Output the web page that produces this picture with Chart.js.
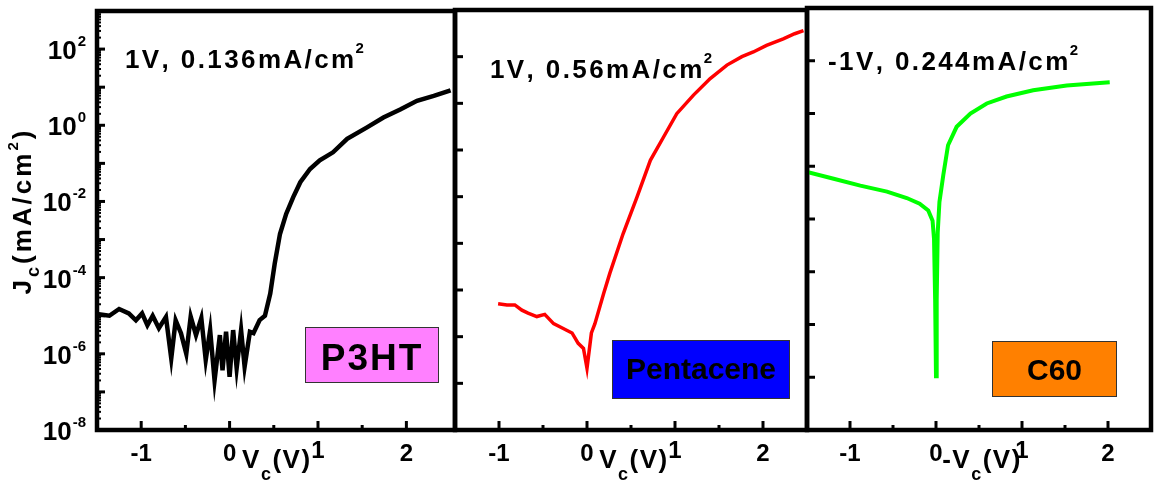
<!DOCTYPE html>
<html>
<head>
<meta charset="utf-8">
<script src="https://cdn.jsdelivr.net/npm/chart.js@4.4.1/dist/chart.umd.min.js"></script>
<style>
  html, body { margin: 0; padding: 0; background: #fff; }
  #wrap { position: relative; width: 1154px; height: 489px; }
  #wrap canvas { position: absolute; left: 0; top: 0; }
</style>
</head>
<body>
<div id="wrap">
  <canvas id="c1" width="1154" height="489"></canvas>
  <canvas id="c2" width="1154" height="489"></canvas>
  <canvas id="c3" width="1154" height="489"></canvas>
</div>
<script>
// P3HT (black), Jc in mA/cm2 vs Vc in V
var p3htV = [-1.48,-1.36,-1.25,-1.14,-1.06,-0.99,-0.93,-0.87,-0.80,-0.72,-0.66,-0.61,-0.55,-0.49,-0.44,-0.38,-0.32,-0.27,-0.22,-0.17,-0.11,-0.08,-0.04,0.00,0.04,0.08,0.13,0.17,0.23,0.27,0.34,0.40,0.46,0.51,0.57,0.64,0.72,0.80,0.91,1.02,1.17,1.33,1.55,1.74,1.93,2.12,2.31,2.50];
var p3htJ = [1.1e-5,1.0e-5,1.5e-5,1.15e-5,7.6e-6,1.15e-5,5.6e-6,1.0e-5,4.7e-6,9.3e-6,7.6e-7,7.6e-6,3.5e-6,1.0e-6,9.5e-6,3.1e-6,8.7e-6,6.9e-7,4.2e-6,2.0e-7,3.1e-6,3.7e-7,3.8e-6,2.5e-7,4.2e-6,4.2e-7,4.2e-6,4.6e-7,3.8e-6,3.5e-6,7.7e-6,1.0e-5,3.8e-5,2.3e-4,1.4e-3,4.7e-3,1.3e-2,3.2e-2,7.1e-2,0.12,0.195,0.44,0.87,1.6,2.6,4.4,5.9,8.3];

// Pentacene (red)
var pentV = [-1.01,-0.91,-0.82,-0.74,-0.67,-0.57,-0.48,-0.38,-0.27,-0.17,-0.10,-0.04,0.00,0.05,0.09,0.19,0.26,0.41,0.57,0.72,0.87,1.02,1.21,1.40,1.59,1.76,1.89,2.04,2.23,2.36,2.46];
var pentJ = [5.1e-6,4.8e-6,4.8e-6,3.7e-6,3.2e-6,2.7e-6,3.0e-6,1.9e-6,1.5e-6,1.2e-6,7.2e-7,5.6e-7,2.1e-7,1.2e-6,1.9e-6,8.5e-6,2.3e-5,1.6e-4,1e-3,6e-3,1.9e-2,6e-2,0.15,0.34,0.66,1.0,1.26,1.74,2.4,3.1,3.6];

// C60 (green)
var c60V = [-1.50,-1.19,-0.88,-0.57,-0.34,-0.19,-0.09,-0.04,-0.023,-0.01,0.00,0.008,0.02,0.04,0.085,0.14,0.24,0.40,0.59,0.82,1.13,1.52,2.02];
var c60J = [7.8e-4,5.8e-4,4.3e-4,3.3e-4,2.5e-4,1.95e-4,1.45e-4,9.3e-5,4.2e-5,3e-6,1.05e-7,3e-6,5.6e-5,2.1e-4,6.8e-4,2.5e-3,5.6e-3,1e-2,1.55e-2,2.1e-2,2.75e-2,3.4e-2,3.9e-2];

var xTickLabels = ['-1', '0', '1', '2'];
var xMajor = [-1, 0, 1, 2];
var xMinor = [-0.5, 0.5, 1.5];
var yLabelExp = ['2', '0', '-2', '-4', '-6', '-8'];

var FONT = '"Liberation Sans", Arial, Helvetica, sans-serif';

function pts(xs, ys) {
  var out = [];
  for (var i = 0; i < xs.length; i++) out.push({x: xs[i], y: ys[i]});
  return out;
}

// pieces [{t, size, bold, dy}] drawn one char at a time with extra spacing
function richWidth(ctx, parts, spacing) {
  var w = 0;
  for (var i = 0; i < parts.length; i++) {
    var p = parts[i];
    ctx.font = (p.bold === false ? '' : 'bold ') + p.size + 'px ' + FONT;
    w += ctx.measureText(p.t).width + spacing * p.t.length;
  }
  return w;
}
function drawRich(ctx, parts, x, y, spacing, align) {
  var w = richWidth(ctx, parts, spacing);
  if (align === 'center') x -= w / 2;
  if (align === 'right') x -= w;
  ctx.textAlign = 'left';
  ctx.textBaseline = 'alphabetic';
  for (var i = 0; i < parts.length; i++) {
    var p = parts[i];
    ctx.font = (p.bold === false ? '' : 'bold ') + p.size + 'px ' + FONT;
    for (var k = 0; k < p.t.length; k++) {
      var ch = p.t[k];
      ctx.fillText(ch, x, y + (p.dy || 0));
      x += ctx.measureText(ch).width + spacing;
    }
  }
  return x;
}

function panelPlugin(opt) {
  return {
    id: 'panel' + opt.name,
    afterDatasetsDraw: function(chart) {
      var ctx = chart.ctx;
      var a = chart.chartArea;
      var xs = chart.scales.x, ys = chart.scales.y;
      ctx.save();
      ctx.fillStyle = '#000';
      ctx.strokeStyle = '#000';

      // x ticks, inward
      ctx.lineWidth = 3;
      xMajor.forEach(function(v) {
        var px = xs.getPixelForValue(v);
        ctx.beginPath(); ctx.moveTo(px, a.bottom); ctx.lineTo(px, a.bottom - 9); ctx.stroke();
      });
      xMinor.forEach(function(v) {
        var px = xs.getPixelForValue(v);
        ctx.beginPath(); ctx.moveTo(px, a.bottom); ctx.lineTo(px, a.bottom - 5); ctx.stroke();
      });

      // y ticks, inward
      var lo = Math.round(Math.log10(ys.min)), hi = Math.round(Math.log10(ys.max));
      for (var d = lo; d <= hi; d++) {
        var py = ys.getPixelForValue(Math.pow(10, d));
        ctx.lineWidth = 3;
        ctx.beginPath(); ctx.moveTo(a.left, py); ctx.lineTo(a.left + 8, py); ctx.stroke();
        if (opt.minor && d < hi) {
          ctx.lineWidth = 2;
          for (var m = 2; m <= 9; m++) {
            var pm = ys.getPixelForValue(m * Math.pow(10, d));
            ctx.beginPath(); ctx.moveTo(a.left, pm); ctx.lineTo(a.left + 4, pm); ctx.stroke();
          }
        }
      }

      // frame
      ctx.lineWidth = 4.5;
      ctx.strokeRect(a.left, a.top, a.right - a.left, a.bottom - a.top);

      // x tick labels and title
      xMajor.forEach(function(v, i) {
        var lift = (v === 1) ? 3 : 0;
        drawRich(ctx, [{t: xTickLabels[i], size: 24}], xs.getPixelForValue(v), a.bottom + 31 - lift, 0, 'center');
      });
      var tparts = [{t: opt.xPrefix + 'V', size: 26}, {t: 'c', size: 18, dy: 12}, {t: '(V)', size: 26}];
      drawRich(ctx, tparts, xs.getPixelForValue(0.5) + 3, a.bottom + 38, 1.5, 'center');

      // y labels (first panel only)
      if (opt.yLabels) {
        yLabelExp.forEach(function(e) {
          var py = ys.getPixelForValue(Math.pow(10, Number(e)));
          ctx.font = 'bold 15px ' + FONT;
          var ew = ctx.measureText(e).width;
          var rx = a.left - 11;
          drawRich(ctx, [{t: '10', size: 26}], rx - ew - 1, py + 10, 0, 'right');
          drawRich(ctx, [{t: e, size: 15}], rx - ew, py - 3, 0, 'left');
        });
        ctx.save();
        ctx.translate(a.left - 66, 211);
        ctx.rotate(-Math.PI / 2);
        drawRich(ctx, [{t: 'J', size: 26}, {t: 'c', size: 18, dy: 8}, {t: '(mA/cm', size: 26},
                       {t: '2', size: 15, dy: -13}, {t: ')', size: 26}], 0, 0, 3, 'center');
        ctx.restore();
      }

      // condition note
      var nx = drawRich(ctx, [{t: opt.note, size: 26}], a.left + opt.noteDx, a.top + opt.noteDy, 2.4, 'left');
      drawRich(ctx, [{t: '2', size: 15}], nx - 1, a.top + opt.noteDy - 15, 0, 'left');

      // material box
      var b = opt.box;
      ctx.fillStyle = b.fill;
      ctx.fillRect(b.x1, b.y1, b.x2 - b.x1, b.y2 - b.y1);
      ctx.lineWidth = 1;
      ctx.strokeStyle = '#333';
      ctx.strokeRect(b.x1 + 0.5, b.y1 + 0.5, b.x2 - b.x1 - 1, b.y2 - b.y1 - 1);
      ctx.fillStyle = '#000';
      drawRich(ctx, [{t: b.text, size: b.size}], (b.x1 + b.x2) / 2, b.baseline, b.spacing, 'center');

      ctx.restore();
    }
  };
}

function makePanel(id, opt) {
  return new Chart(document.getElementById(id), {
    type: 'line',
    data: {
      datasets: [{
        data: pts(opt.V, opt.J),
        borderColor: opt.color,
        borderWidth: opt.width,
        pointRadius: 0,
        tension: 0,
        fill: false
      }]
    },
    options: {
      responsive: false,
      animation: false,
      devicePixelRatio: 1,
      layout: { padding: opt.pad },
      plugins: { legend: { display: false }, tooltip: { enabled: false } },
      scales: {
        x: { type: 'linear', min: opt.xmin, max: opt.xmax, display: false },
        y: { type: 'logarithmic', min: 1e-8, max: opt.ymax, display: false }
      }
    },
    plugins: [panelPlugin(opt)]
  });
}

makePanel('c1', {
  name: 1, V: p3htV, J: p3htJ, color: '#000000', width: 4.5,
  xmin: -1.5, xmax: 2.55, ymax: 1e3,
  pad: { left: 97, top: 11, right: 699, bottom: 59 },
  minor: true, yLabels: true, xPrefix: '',
  note: '1V, 0.136mA/cm', noteDx: 28, noteDy: 57,
  box: { x1: 305, y1: 327, x2: 439, y2: 383, fill: '#ff80ff', text: 'P3HT', size: 37, spacing: 2, baseline: 370 }
});

makePanel('c2', {
  name: 2, V: pentV, J: pentJ, color: '#ff0000', width: 3.5,
  xmin: -1.5, xmax: 2.5, ymax: 1e1,
  pad: { left: 455, top: 10, right: 347, bottom: 59 },
  minor: false, yLabels: false, xPrefix: '',
  note: '1V, 0.56mA/cm', noteDx: 35, noteDy: 68,
  box: { x1: 612, y1: 340, x2: 790, y2: 399, fill: '#0000ff', text: 'Pentacene', size: 30, spacing: 0, baseline: 379 }
});

makePanel('c3', {
  name: 3, V: c60V, J: c60J, color: '#00ff00', width: 4,
  xmin: -1.5, xmax: 2.5, ymax: 1e0,
  pad: { left: 807, top: 8, right: 3, bottom: 59 },
  minor: false, yLabels: false, xPrefix: '-',
  note: '-1V, 0.244mA/cm', noteDx: 21, noteDy: 62,
  box: { x1: 992, y1: 341, x2: 1117, y2: 397, fill: '#ff8000', text: 'C60', size: 30, spacing: 0, baseline: 380 }
});
</script>
</body>
</html>
